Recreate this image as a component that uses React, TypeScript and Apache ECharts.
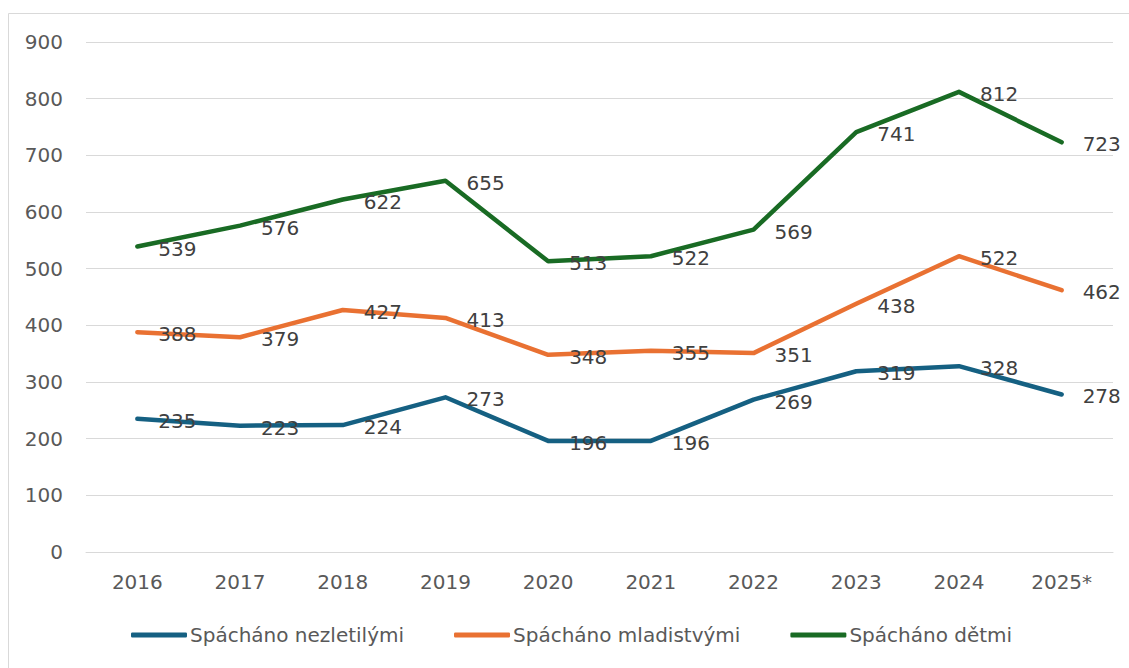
import React, { useEffect, useRef } from "react";
import * as echarts from "echarts";

const categories = ["2016", "2017", "2018", "2019", "2020", "2021", "2022", "2023", "2024", "2025*"];
const nezletilymi = [235, 223, 224, 273, 196, 196, 269, 319, 328, 278];
const mladistvymi = [388, 379, 427, 413, 348, 355, 351, 438, 522, 462];
const detmi = [539, 576, 622, 655, 513, 522, 569, 741, 812, 723];
const seriesNames = ["Spácháno nezletilými", "Spácháno mladistvými", "Spácháno dětmi"];
const colors = ["#156082", "#E97132", "#196B24"];

const FONT = "'DejaVu Sans', sans-serif";
const FS = 20;

export default function App() {
  const ref = useRef<HTMLDivElement>(null);
  useEffect(() => {
    const chart = echarts.init(ref.current!, null, { renderer: "svg" });
    const mk = (name: string, data: number[], color: string) => ({
      name,
      type: "line",
      data,
      symbol: "circle",
      symbolSize: 2,
      itemStyle: { color },
      lineStyle: { color, width: 4.5, cap: "round", join: "round" },
      label: {
        show: true,
        position: "right",
        distance: 20,
        offset: [0, 2],
        color: "#404040",
        fontSize: FS,
        fontFamily: FONT,
      },
      emphasis: { disabled: true },
    });
    chart.setOption({
      animation: false,
      color: colors,
      graphic: [
        {
          type: "rect",
          shape: { x: 8.5, y: 13.5, width: 1130, height: 670 },
          style: { fill: "none", stroke: "#d9d9d9", lineWidth: 1 },
          silent: true,
        },
      ],
      grid: { left: 86, right: 16, top: 42, bottom: 116, containLabel: false },
      xAxis: {
        type: "category",
        data: categories,
        boundaryGap: true,
        axisLine: { lineStyle: { color: "#d9d9d9", width: 1 } },
        axisTick: { show: false },
        axisLabel: { color: "#595959", fontSize: FS, fontFamily: FONT, margin: 20 },
      },
      yAxis: {
        type: "value",
        min: 0,
        max: 900,
        interval: 100,
        axisLine: { show: false },
        axisTick: { show: false },
        splitLine: { lineStyle: { color: "#d9d9d9", width: 1 } },
        axisLabel: { color: "#595959", fontSize: FS, fontFamily: FONT, margin: 23 },
      },
      legend: {
        left: 126,
        top: 620,
        itemWidth: 56,
        itemHeight: 5,
        itemGap: 50,
        icon: "roundRect",
        textStyle: { color: "#595959", fontSize: FS, fontFamily: FONT, padding: [0, 0, 0, -2] },
        data: seriesNames,
      },
      series: [
        mk(seriesNames[0], nezletilymi, colors[0]),
        mk(seriesNames[1], mladistvymi, colors[1]),
        mk(seriesNames[2], detmi, colors[2]),
      ],
    });
    return () => chart.dispose();
  }, []);
  return (
    <div
      ref={ref}
      style={{ position: "fixed", left: 0, top: 0, width: 1129, height: 668, background: "#fff" }}
    />
  );
}
